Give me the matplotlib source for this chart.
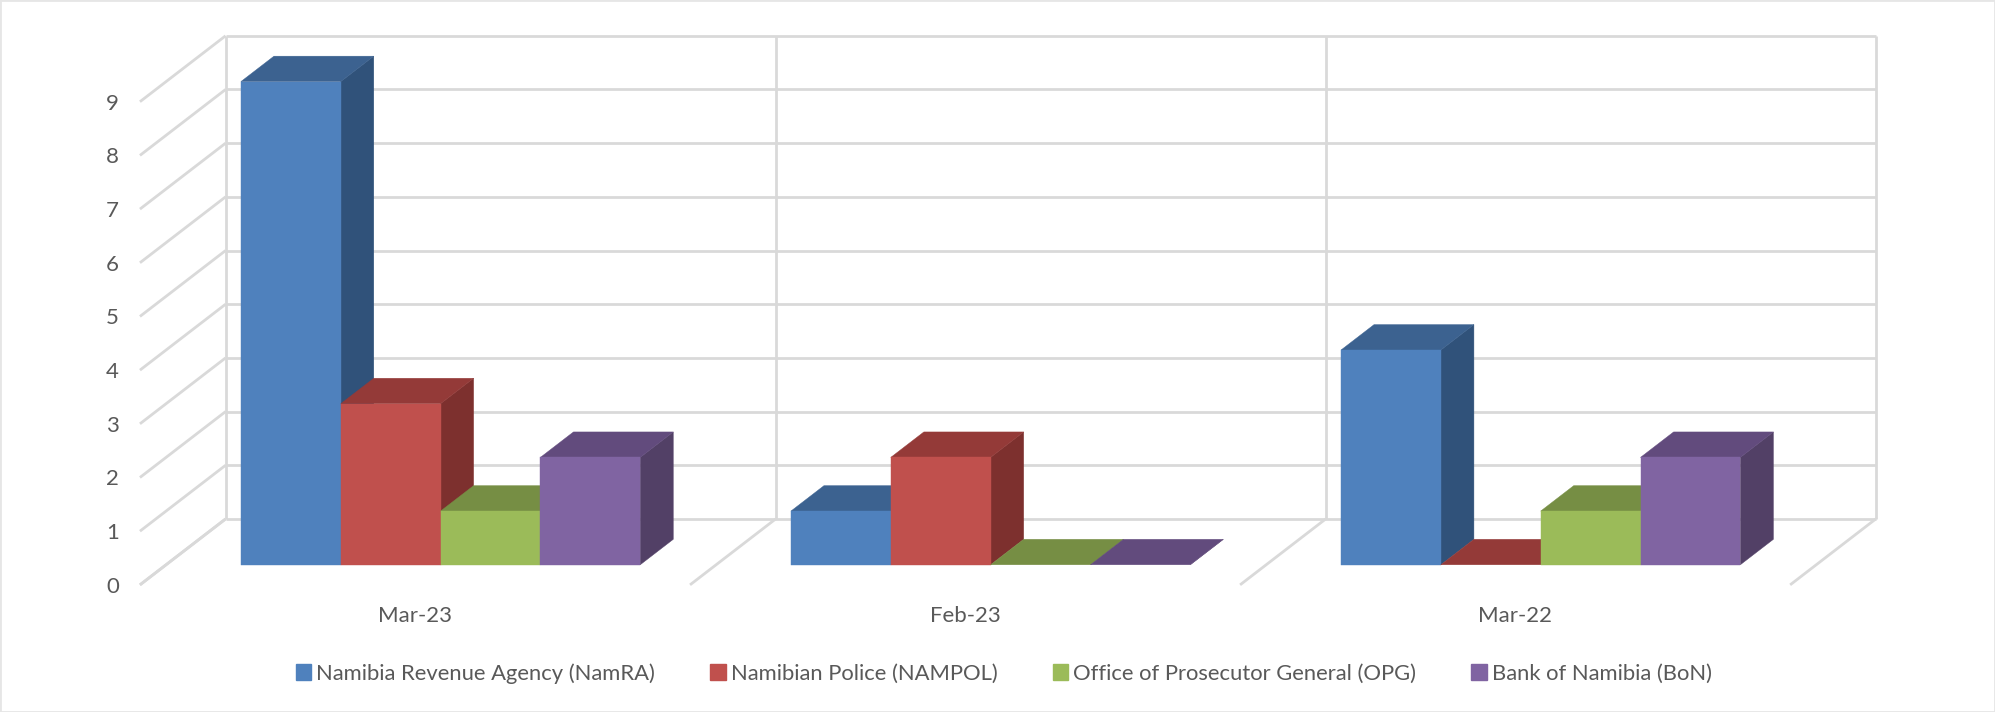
import matplotlib
matplotlib.use("Agg")
import matplotlib.pyplot as plt
from matplotlib.patches import Patch, Rectangle

plt.rcParams["font.family"] = ["Lato", "DejaVu Sans"]

categories = ["Mar-23", "Feb-23", "Mar-22"]
series_names = [
    "Namibia Revenue Agency (NamRA)",
    "Namibian Police (NAMPOL)",
    "Office of Prosecutor General (OPG)",
    "Bank of Namibia (BoN)",
]
namra = [9, 1, 4]
nampol = [3, 2, 0]
opg = [1, 0, 1]
bon = [2, 0, 2]
series_values = [namra, nampol, opg, bon]

front_colors = ["#4F81BD", "#C0504D", "#9BBB59", "#8064A2"]
side_colors = ["#30527A", "#7D302E", "#5F7A36", "#524066"]
top_colors = ["#3C6290", "#943A38", "#768E44", "#624B7D"]
grid_color = "#D9D9D9"
text_color = "#595959"

# fake 3d: every point is (category x, value, depth)
DX = 0.0601
DY = 0.474
BAR_FRONT = 0.79
BAR_BACK = 1.79
WALL = 2.59
GAP = 0.136
BAR_W = 0.1815


def project(x, v, d):
    return x + d * DX, v + d * DY


def poly(ax, pts, color, z):
    xs, ys = zip(*[project(*p) for p in pts])
    ax.fill(xs, ys, color=color, lw=0.3, zorder=z, clip_on=False)


def line(ax, p1, p2):
    a = project(*p1)
    b = project(*p2)
    ax.plot([a[0], b[0]], [a[1], b[1]], color=grid_color, lw=2.0, zorder=1,
            clip_on=False, solid_capstyle="butt")


fig = plt.figure(figsize=(19.95, 7.12), dpi=100)
ax = fig.add_axes([110 / 1568, 1 - 460 / 560, (1407 - 110) / 1568, 380 / 560])
ax.set_xlim(0, 3)
ax.set_ylim(0, 9)
ax.patch.set_alpha(0)

# walls and grid
for v in range(10):
    line(ax, (0, v, WALL), (3, v, WALL))
    line(ax, (0, v, 0), (0, v, WALL))
for i in range(4):
    line(ax, (i, 0, WALL), (i, 9, WALL))
    line(ax, (i, 0, 0), (i, 0, WALL))

# bars, left to right so later ones cover the side of earlier ones
z = 2
for g in range(len(categories)):
    for s, values in enumerate(series_values):
        x0 = g + GAP + s * BAR_W
        x1 = x0 + BAR_W
        v = values[g]
        poly(ax, [(x1, 0, BAR_FRONT), (x1, 0, BAR_BACK), (x1, v, BAR_BACK), (x1, v, BAR_FRONT)], side_colors[s], z)
        poly(ax, [(x0, v, BAR_FRONT), (x1, v, BAR_FRONT), (x1, v, BAR_BACK), (x0, v, BAR_BACK)], top_colors[s], z + 1)
        if v > 0:
            poly(ax, [(x0, 0, BAR_FRONT), (x1, 0, BAR_FRONT), (x1, v, BAR_FRONT), (x0, v, BAR_FRONT)], front_colors[s], z + 2)
        z += 3

ax.set_yticks(range(10))
ax.set_xticks([0.5, 1.5, 2.5])
ax.set_xticklabels(categories)
ax.tick_params(axis="both", length=0, labelsize=16, labelcolor=text_color)
ax.tick_params(axis="y", pad=15)
ax.tick_params(axis="x", pad=15)
for spine in ax.spines.values():
    spine.set_visible(False)

handles = [Patch(color=c, label=n) for c, n in zip(front_colors, series_names)]
fig.legend(handles=handles, ncol=4, loc="center", bbox_to_anchor=(789 / 1568, 1 - 529.5 / 560),
           frameon=False, fontsize=15.8, labelcolor=text_color, handlelength=0.7, handleheight=0.7,
           handletextpad=0.25, columnspacing=2.5)

fig.add_artist(Rectangle((0, 0), 1, 1, transform=fig.transFigure, fill=False,
                         edgecolor="#E6E6E6", lw=2))

plt.savefig("out.png", dpi=100)
